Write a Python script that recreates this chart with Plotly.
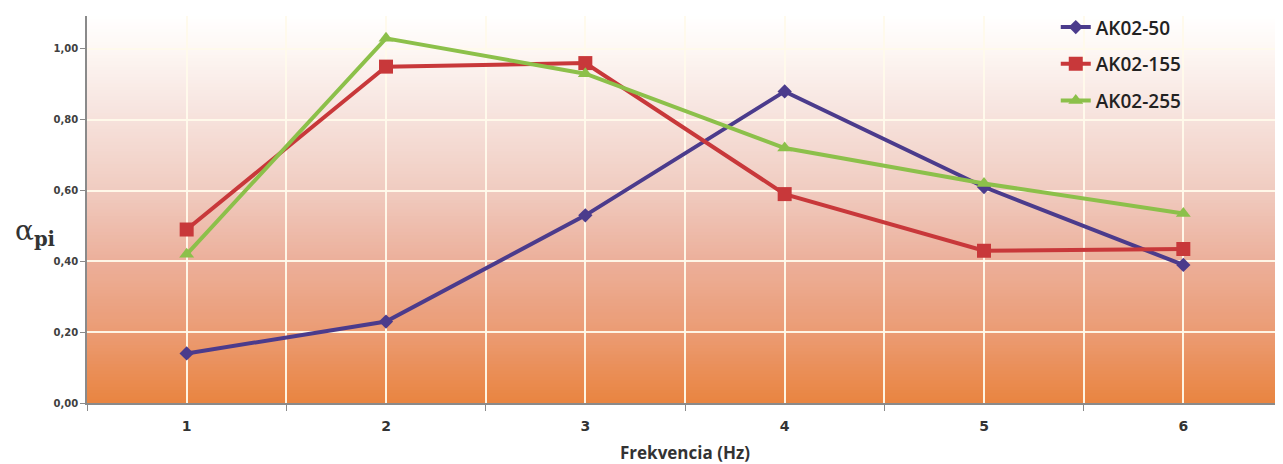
import plotly.graph_objects as go

categories = [1, 2, 3, 4, 5, 6]
ak02_50 = [0.14, 0.23, 0.53, 0.88, 0.61, 0.39]
ak02_155 = [0.49, 0.95, 0.96, 0.59, 0.43, 0.435]
ak02_255 = [0.42, 1.03, 0.93, 0.72, 0.62, 0.535]
series_names = ["AK02-50", "AK02-155", "AK02-255"]
y_ticks = [0.0, 0.2, 0.4, 0.6, 0.8, 1.0]

colors = ["#4B3B8C", "#C8383A", "#8CC04A"]
symbols = ["diamond", "square", "triangle-up"]
sizes = [11, 14, 13]

Y_MAX = 1.093

fig = go.Figure()

# background gradient bands (orange at bottom -> white at top)
stops = [(0.0, (233, 132, 64)), (0.18, (235, 155, 115)), (0.37, (236, 176, 155)),
         (0.55, (240, 203, 192)), (0.75, (247, 228, 222)), (0.93, (254, 249, 246)),
         (1.0, (255, 255, 255))]

def col_at(t):
    for (a, ca), (b, cb) in zip(stops[:-1], stops[1:]):
        if a <= t <= b:
            f = (t - a) / (b - a) if b > a else 0
            return "rgb(%d,%d,%d)" % tuple(round(ca[i] + (cb[i] - ca[i]) * f) for i in range(3))
    return "rgb(255,255,255)"

n = 120
shapes = []
for i in range(n):
    y0 = i / n
    y1 = (i + 1) / n + 0.002
    shapes.append(dict(type="rect", xref="x domain", yref="y domain", x0=0, x1=1,
                       y0=y0, y1=min(y1, 1), fillcolor=col_at((i + 0.5) / n),
                       line=dict(width=0), layer="below"))

for name, vals, c, s, sz in zip(series_names, [ak02_50, ak02_155, ak02_255], colors, symbols, sizes):
    fig.add_trace(go.Scatter(
        x=categories, y=vals, name=name, mode="lines+markers",
        line=dict(color=c, width=4),
        marker=dict(symbol=s, size=sz, color=c),
        legendgroup=name,
    ))

grid_col = "rgba(255,250,235,0.95)"

fig.update_layout(
    width=1275, height=456,
    margin=dict(l=79, r=0, t=8, b=61),
    paper_bgcolor="white",
    plot_bgcolor="white",
    separators=", ",
    shapes=shapes,
    font=dict(family="DejaVu Sans", color="#404040"),
    legend=dict(x=0.81, y=1.02, xanchor="left", yanchor="top",
                font=dict(family="Open Sans", size=19, color="#222222", weight=600),
                bgcolor="rgba(0,0,0,0)", tracegroupgap=9, itemwidth=30),
    xaxis=dict(range=[0.5, 6.5], tickvals=categories, ticktext=[str(c) for c in categories],
               showgrid=True, gridcolor=grid_col, gridwidth=1.5,
               ticks="", showline=True, linecolor="#8a8a8a", linewidth=1.5,
               ticklabelstandoff=9,
               tickfont=dict(family="DejaVu Sans", size=14, color="#333333", weight="bold"),
               minor=dict(tickvals=[0.5, 1.5, 2.5, 3.5, 4.5, 5.5, 6.5], ticks="outside", ticklen=6,
                          tickcolor="#8a8a8a", showgrid=True, gridcolor=grid_col, gridwidth=1.5),
               title=dict(text="Frekvencia (Hz)", standoff=20,
                          font=dict(family="Open Sans", size=17, color="#333333", weight="bold")),
               zeroline=False),
    yaxis=dict(range=[0, Y_MAX], tickvals=y_ticks, tickformat=".2f",
               showgrid=True, gridcolor=grid_col, gridwidth=1.5,
               ticks="outside", ticklen=5, tickcolor="#8a8a8a",
               showline=True, linecolor="#8a8a8a", linewidth=1.5,
               tickfont=dict(family="DejaVu Sans", size=10, color="#404040", weight="bold"),
               zeroline=False),
    annotations=[dict(text="α<sub><b>pi</b></sub>", xref="paper", yref="paper",
                      x=-0.062, y=0.44, xanchor="left", yanchor="middle", showarrow=False,
                      font=dict(family="DejaVu Serif", size=28, color="#333333"))],
)

fig.write_html("out.html")
